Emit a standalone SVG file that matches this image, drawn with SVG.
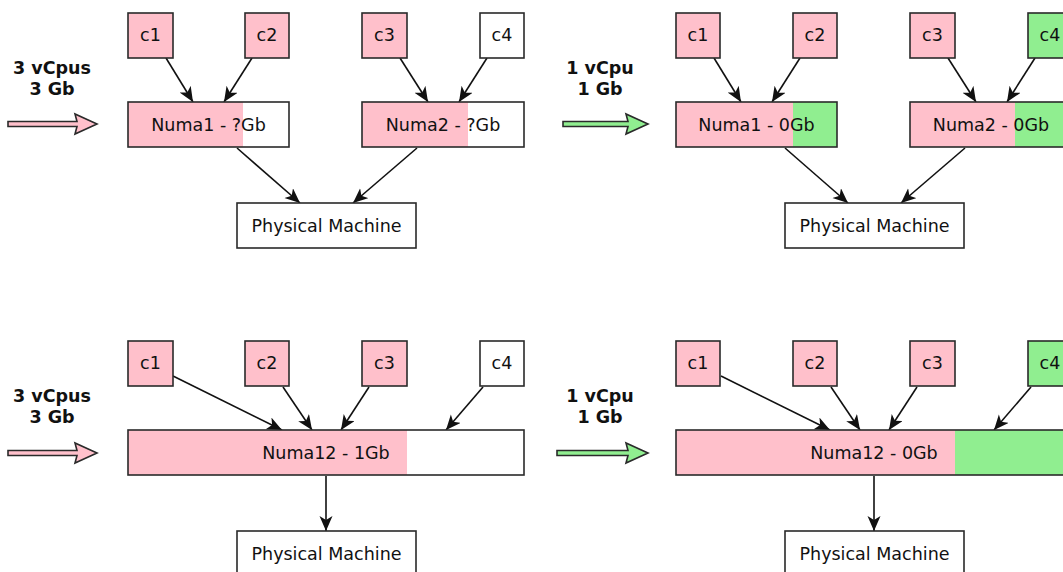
<svg xmlns="http://www.w3.org/2000/svg" width="1063" height="572" viewBox="0 0 1063 572">
<style>
text{font-family:"DejaVu Sans","Liberation Sans",sans-serif;font-size:17.5px;fill:#111;text-anchor:middle}
.b{font-weight:bold}
.o{fill:none;stroke:#2a2a2a;stroke-width:1.6}
.p{fill:#ffc0cb}
.g{fill:#90ee90}
.w{fill:#ffffff}
.e{fill:none;stroke:#111;stroke-width:1.6}
.ap{fill:#ffc0cb;stroke:#2a2a2a;stroke-width:1.6;stroke-linejoin:miter}
.ag{fill:#90ee90;stroke:#2a2a2a;stroke-width:1.6;stroke-linejoin:miter}
</style>
<defs>
<marker id="ah" markerUnits="userSpaceOnUse" markerWidth="18" markerHeight="16" refX="15" refY="6.5" orient="auto">
<path d="M0,0 L15,6.5 L0,13 L4,6.5 z" fill="#111"/>
</marker>
</defs>
<rect width="1063" height="572" fill="#fff"/>

<!-- labels and input arrows -->
<g id="input-tl">
<text class="b" x="52" y="74">3 vCpus</text>
<text class="b" x="52" y="95">3 Gb</text>
<path class="ap" d="M8,121.5 L77,121.5 L75,114 L97,124 L75,134 L77,126.5 L8,126.5 z"/>
</g>
<g id="input-tr">
<text class="b" x="600" y="74">1 vCpu</text>
<text class="b" x="600" y="95">1 Gb</text>
<path class="ag" d="M563,121.5 L628,121.5 L626,114 L648,124 L626,134 L628,126.5 L563,126.5 z"/>
</g>
<g id="input-bl">
<text class="b" x="52" y="402">3 vCpus</text>
<text class="b" x="52" y="423">3 Gb</text>
<path class="ap" d="M8,450.5 L77,450.5 L75,443 L97,453 L75,463 L77,455.5 L8,455.5 z"/>
</g>
<g id="input-br">
<text class="b" x="600" y="402">1 vCpu</text>
<text class="b" x="600" y="423">1 Gb</text>
<path class="ag" d="M557,450.5 L628,450.5 L626,443 L648,453 L626,463 L628,455.5 L557,455.5 z"/>
</g>

<!-- connectors -->
<g id="connectors">
<line class="e" x1="166" y1="58" x2="193" y2="102" marker-end="url(#ah)"/>
<line class="e" x1="252" y1="58" x2="224" y2="102" marker-end="url(#ah)"/>
<line class="e" x1="400" y1="58" x2="428" y2="102" marker-end="url(#ah)"/>
<line class="e" x1="487" y1="58" x2="459" y2="102" marker-end="url(#ah)"/>
<line class="e" x1="237" y1="148" x2="300" y2="203" marker-end="url(#ah)"/>
<line class="e" x1="417" y1="148" x2="353" y2="203" marker-end="url(#ah)"/>

<line class="e" x1="714" y1="58" x2="741" y2="102" marker-end="url(#ah)"/>
<line class="e" x1="800" y1="58" x2="772" y2="102" marker-end="url(#ah)"/>
<line class="e" x1="948" y1="58" x2="976" y2="102" marker-end="url(#ah)"/>
<line class="e" x1="1035" y1="58" x2="1007" y2="102" marker-end="url(#ah)"/>
<line class="e" x1="785" y1="148" x2="848" y2="203" marker-end="url(#ah)"/>
<line class="e" x1="965" y1="148" x2="901" y2="203" marker-end="url(#ah)"/>

<line class="e" x1="173" y1="376" x2="282" y2="430" marker-end="url(#ah)"/>
<line class="e" x1="283" y1="387" x2="312" y2="430" marker-end="url(#ah)"/>
<line class="e" x1="369" y1="387" x2="341" y2="430" marker-end="url(#ah)"/>
<line class="e" x1="483" y1="387" x2="446" y2="430" marker-end="url(#ah)"/>
<line class="e" x1="326" y1="476" x2="326" y2="531" marker-end="url(#ah)"/>

<line class="e" x1="721" y1="376" x2="830" y2="430" marker-end="url(#ah)"/>
<line class="e" x1="831" y1="387" x2="860" y2="430" marker-end="url(#ah)"/>
<line class="e" x1="917" y1="387" x2="889" y2="430" marker-end="url(#ah)"/>
<line class="e" x1="1031" y1="387" x2="994" y2="430" marker-end="url(#ah)"/>
<line class="e" x1="874" y1="476" x2="874" y2="531" marker-end="url(#ah)"/>
</g>

<!-- top-left -->
<g id="tl-c1"><rect class="p" x="128" y="13" width="45" height="45"/><rect class="o" x="128" y="13" width="45" height="45"/><text x="150.5" y="41">c1</text></g>
<g id="tl-c2"><rect class="p" x="245" y="13" width="44" height="45"/><rect class="o" x="245" y="13" width="44" height="45"/><text x="267" y="41">c2</text></g>
<g id="tl-c3"><rect class="p" x="362" y="13" width="45" height="45"/><rect class="o" x="362" y="13" width="45" height="45"/><text x="384.5" y="41">c3</text></g>
<g id="tl-c4"><rect class="w" x="480" y="13" width="44" height="45"/><rect class="o" x="480" y="13" width="44" height="45"/><text x="502" y="41">c4</text></g>
<g id="tl-numa1"><rect class="w" x="128" y="102" width="161" height="45"/><rect class="p" x="128" y="102" width="115" height="45"/><rect class="o" x="128" y="102" width="161" height="45"/><text x="208.5" y="130.5">Numa1 - ?Gb</text></g>
<g id="tl-numa2"><rect class="w" x="362" y="102" width="162" height="45"/><rect class="p" x="362" y="102" width="106" height="45"/><rect class="o" x="362" y="102" width="162" height="45"/><text x="443" y="130.5">Numa2 - ?Gb</text></g>
<g id="tl-pm"><rect class="w" x="237" y="203" width="179" height="45"/><rect class="o" x="237" y="203" width="179" height="45"/><text x="326.5" y="231.5">Physical Machine</text></g>

<!-- top-right -->
<g id="tr-c1"><rect class="p" x="676" y="13" width="44" height="45"/><rect class="o" x="676" y="13" width="44" height="45"/><text x="698" y="41">c1</text></g>
<g id="tr-c2"><rect class="p" x="793" y="13" width="44" height="45"/><rect class="o" x="793" y="13" width="44" height="45"/><text x="815" y="41">c2</text></g>
<g id="tr-c3"><rect class="p" x="910" y="13" width="45" height="45"/><rect class="o" x="910" y="13" width="45" height="45"/><text x="932.5" y="41">c3</text></g>
<g id="tr-c4"><rect class="g" x="1028" y="13" width="44" height="45"/><rect class="o" x="1028" y="13" width="44" height="45"/><text x="1050" y="41">c4</text></g>
<g id="tr-numa1"><rect class="g" x="676" y="102" width="161" height="45"/><rect class="p" x="676" y="102" width="117" height="45"/><rect class="o" x="676" y="102" width="161" height="45"/><text x="756.5" y="130.5">Numa1 - 0Gb</text></g>
<g id="tr-numa2"><rect class="g" x="910" y="102" width="162" height="45"/><rect class="p" x="910" y="102" width="105" height="45"/><rect class="o" x="910" y="102" width="162" height="45"/><text x="991" y="130.5">Numa2 - 0Gb</text></g>
<g id="tr-pm"><rect class="w" x="785" y="203" width="179" height="45"/><rect class="o" x="785" y="203" width="179" height="45"/><text x="874.5" y="231.5">Physical Machine</text></g>

<!-- bottom-left -->
<g id="bl-c1"><rect class="p" x="128" y="341" width="45" height="45"/><rect class="o" x="128" y="341" width="45" height="45"/><text x="150.5" y="369">c1</text></g>
<g id="bl-c2"><rect class="p" x="245" y="341" width="44" height="45"/><rect class="o" x="245" y="341" width="44" height="45"/><text x="267" y="369">c2</text></g>
<g id="bl-c3"><rect class="p" x="362" y="341" width="45" height="45"/><rect class="o" x="362" y="341" width="45" height="45"/><text x="384.5" y="369">c3</text></g>
<g id="bl-c4"><rect class="w" x="480" y="341" width="44" height="45"/><rect class="o" x="480" y="341" width="44" height="45"/><text x="502" y="369">c4</text></g>
<g id="bl-numa12"><rect class="w" x="128" y="430" width="396" height="45"/><rect class="p" x="128" y="430" width="279" height="45"/><rect class="o" x="128" y="430" width="396" height="45"/><text x="326" y="458.5">Numa12 - 1Gb</text></g>
<g id="bl-pm"><rect class="w" x="237" y="531" width="179" height="45"/><rect class="o" x="237" y="531" width="179" height="45"/><text x="326.5" y="559.5">Physical Machine</text></g>

<!-- bottom-right -->
<g id="br-c1"><rect class="p" x="676" y="341" width="44" height="45"/><rect class="o" x="676" y="341" width="44" height="45"/><text x="698" y="369">c1</text></g>
<g id="br-c2"><rect class="p" x="793" y="341" width="44" height="45"/><rect class="o" x="793" y="341" width="44" height="45"/><text x="815" y="369">c2</text></g>
<g id="br-c3"><rect class="p" x="910" y="341" width="45" height="45"/><rect class="o" x="910" y="341" width="45" height="45"/><text x="932.5" y="369">c3</text></g>
<g id="br-c4"><rect class="g" x="1028" y="341" width="44" height="45"/><rect class="o" x="1028" y="341" width="44" height="45"/><text x="1050" y="369">c4</text></g>
<g id="br-numa12"><rect class="g" x="676" y="430" width="396" height="45"/><rect class="p" x="676" y="430" width="279" height="45"/><rect class="o" x="676" y="430" width="396" height="45"/><text x="874" y="458.5">Numa12 - 0Gb</text></g>
<g id="br-pm"><rect class="w" x="785" y="531" width="179" height="45"/><rect class="o" x="785" y="531" width="179" height="45"/><text x="874.5" y="559.5">Physical Machine</text></g>
</svg>
